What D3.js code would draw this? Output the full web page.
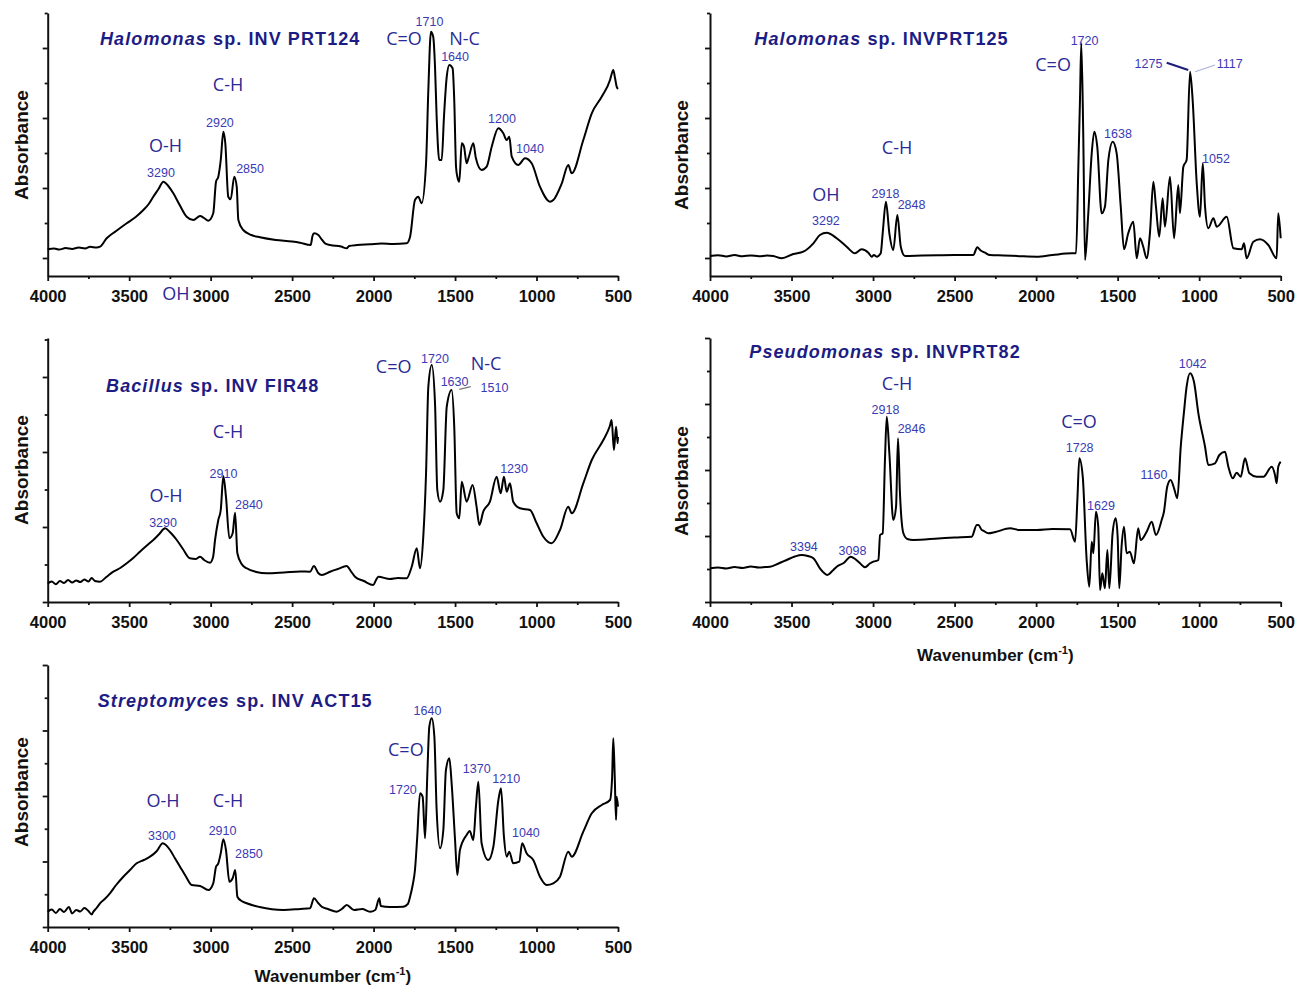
<!DOCTYPE html>
<html>
<head>
<meta charset="utf-8">
<script src="https://cdn.jsdelivr.net/npm/d3@7"></script>
<style>
  body { margin: 0; background: #fff; }
  svg text { font-family: "Liberation Sans", Arial, sans-serif; }
</style>
</head>
<body>
<div id="chart"></div>
<script>
// FTIR spectra, [wavenumber cm-1, absorbance (arb. units)]
const prt124 = [[4000,26.7],[3960,27.6],[3930,26.4],[3890,27.9],[3850,27.0],[3810,28.4],[3770,27.6],[3740,29.2],[3700,28.5],[3679,29.3],[3638,37.7],[3580,45],[3515,52.7],[3460,59],[3413,66],[3380,72],[3352,79.3],[3320,87],[3290,94.3],[3260,90],[3229,82.7],[3190,71],[3147,59.3],[3106,56],[3065,60],[3040,58],[3014,55.3],[2984,62.7],[2967,94.3],[2953,99.3],[2938,116],[2922,144.3],[2910,132.7],[2892,79.3],[2877,76.7],[2855,99.3],[2840,89.3],[2830,56],[2800,46],[2750,41],[2697,38.7],[2600,36],[2500,34.5],[2452,33.3],[2386,31],[2375,40],[2365,42.7],[2339,41],[2320,37],[2298,32.7],[2267,31],[2200,29.5],[2165,27.7],[2150,30],[2100,31],[2022,31.7],[1950,32.5],[1880,32],[1797,32.7],[1776,39.3],[1746,76],[1726,79.3],[1705,72.7],[1678,112.7],[1664,186],[1648,244.3],[1634,239.3],[1623,209.3],[1613,159.3],[1597,116],[1582,116],[1568,159.3],[1551,199.3],[1535,211],[1515,207.7],[1505,176],[1494,109.3],[1486,99.3],[1474,94.3],[1459,132.7],[1445,129.3],[1429,112.7],[1415,119.3],[1388,132.7],[1372,117.7],[1337,106],[1306,109.3],[1275,129.3],[1234,147.7],[1204,142.7],[1183,136],[1167,139.3],[1152,119.3],[1112,111],[1071,117.7],[1030,112.7],[979,89.3],[917,74.3],[897,76],[845,92.7],[805,111],[784,102.7],[713,136],[661,162.7],[600,179.3],[549,196],[535,204],[529,206],[518,197.7],[508,189.3],[500,187]];

const prt125 = [[4000,20],[3950,20.8],[3900,19.6],[3850,20.9],[3800,19.8],[3750,20.6],[3700,19.7],[3650,20.5],[3612,20],[3560,17.7],[3489,22],[3428,24.3],[3366,32.7],[3326,41],[3284,43.3],[3223,37.7],[3162,29.3],[3111,22.7],[3070,26.7],[3029,23.3],[3008,19.3],[2995,21],[2978,19.3],[2953,22.7],[2941,42.7],[2921,74.3],[2900,42.7],[2876,26],[2851,61],[2830,29.3],[2804,20],[2700,20.5],[2600,20.8],[2500,21],[2385,21],[2361,28.7],[2340,25.5],[2314,23.3],[2283,21],[2200,20.5],[2100,19.8],[1996,19.3],[1900,21],[1782,22.7],[1755,22.7],[1741,109.3],[1731,176],[1723,232.7],[1711,142.7],[1700,16],[1680,62.7],[1659,122.7],[1643,144.3],[1625,129.3],[1598,62.7],[1578,69.3],[1557,116],[1530,134.3],[1506,122.7],[1481,69.3],[1461,26.7],[1435,42.7],[1404,54.3],[1383,17.7],[1363,37.7],[1343,29.3],[1322,17.7],[1302,42.7],[1281,94.3],[1265,69.3],[1245,39.3],[1224,77.7],[1210,49.3],[1179,99.3],[1154,37.7],[1128,91],[1118,62.7],[1097,109.3],[1077,116],[1056,204.3],[1040,176],[1015,92.7],[995,59.3],[978,112.7],[964,69.3],[944,47.7],[913,57.7],[892,49.3],[831,59.3],[790,27.7],[739,26.7],[725,32.7],[709,17.7],[668,34.3],[627,36.7],[576,31],[525,17.7],[515,62.7],[500,37.7]];

const fir48 = [[4000,18.7],[3975,20.5],[3950,17.8],[3925,21],[3900,19],[3875,22],[3850,19.5],[3825,21.5],[3800,20],[3775,22.5],[3750,20.5],[3730,24],[3710,21],[3679,20.3],[3640,25],[3597,30.3],[3555,34],[3515,38.7],[3475,44],[3434,50.3],[3395,56],[3352,62],[3315,68],[3280,73.7],[3250,70],[3208,62],[3170,53],[3127,43.7],[3090,43],[3065,45.3],[3040,42],[3004,39.3],[2985,45],[2973,62],[2953,82],[2938,92],[2922,126],[2906,105.3],[2885,63.7],[2865,68.7],[2850,89.3],[2836,48.7],[2810,38],[2779,33.7],[2720,30],[2656,28.7],[2550,29.5],[2450,30.5],[2390,30.3],[2366,36],[2340,29],[2318,27],[2267,30.3],[2220,33],[2165,36],[2140,31],[2114,25.3],[2060,21],[2002,17],[1985,22],[1971,25.3],[1900,23],[1850,24],[1797,23.7],[1766,35.3],[1735,53.7],[1715,33.7],[1695,65.3],[1678,128.7],[1664,215.3],[1643,237],[1623,198.7],[1609,112],[1592,100.3],[1572,112],[1551,195.3],[1521,212],[1505,175.3],[1490,88.7],[1474,83.7],[1459,120.3],[1429,100.3],[1392,117],[1368,95.3],[1351,77],[1327,90.3],[1286,100.3],[1245,125.3],[1220,108.7],[1200,125.3],[1183,110.3],[1163,118.7],[1143,100.3],[1101,93.7],[1040,92],[999,78.7],[958,65.3],[907,58.7],[856,72],[805,95.3],[784,88.7],[713,118.7],[661,142],[590,162],[550,176],[539,182],[525,152],[512,175.3],[502,158.7],[500,165]];

const prt82 = [[4000,33.7],[3950,34.5],[3900,33.5],[3850,35],[3800,34],[3750,35.5],[3700,34.5],[3660,35],[3632,35.3],[3580,38.5],[3530,42],[3480,45.5],[3438,47],[3400,46],[3366,43.7],[3326,33.7],[3300,29],[3281,27],[3250,31],[3223,35.3],[3180,39],[3137,45.3],[3110,43],[3080,38.7],[3049,34.7],[3020,38.5],[2998,40.3],[2967,42],[2957,67],[2941,68.7],[2927,142],[2916,185.3],[2900,148.7],[2876,82],[2859,95.3],[2847,163.7],[2835,108.7],[2814,68.7],[2790,63],[2753,62],[2600,63.5],[2500,64.5],[2395,65.3],[2364,77],[2354,77],[2333,72],[2324,71.3],[2293,68.7],[2250,70],[2160,73.7],[2100,72],[1996,72],[1900,73],[1792,72.7],[1761,60.3],[1747,102],[1735,143.7],[1714,125.3],[1690,42],[1674,15.3],[1659,60.3],[1649,48.7],[1633,90.3],[1619,75.3],[1608,12],[1594,28.7],[1578,13.7],[1563,52],[1551,13.7],[1531,68.7],[1512,83.7],[1500,65.3],[1490,13.7],[1476,55.3],[1461,75.3],[1445,48.7],[1425,50.3],[1400,38.7],[1374,73.7],[1359,62],[1322,70.3],[1291,80.3],[1265,67],[1230,82],[1216,90.3],[1196,115.3],[1175,122],[1154,113.7],[1134,103.7],[1113,155.3],[1093,190.3],[1077,215.3],[1056,228.7],[1032,220.3],[1005,188.7],[964,155.3],[944,137],[903,138.7],[876,147],[842,150.3],[821,135.3],[794,123.7],[770,129.3],[745,125.3],[719,143.7],[692,128.7],[647,125.3],[606,125.3],[555,135.3],[535,127],[525,118.7],[515,135.3],[500,140.3]];

const act15 = [[4000,15.3],[3975,17.5],[3950,14],[3925,18],[3900,15],[3870,20],[3850,13.5],[3825,17],[3800,15.5],[3775,19],[3750,16],[3730,12.5],[3720,15.3],[3700,19],[3679,23.7],[3650,28],[3618,33.7],[3580,42],[3536,50.3],[3495,57],[3454,63.7],[3410,67],[3372,70.3],[3330,76],[3294,83.7],[3249,77],[3220,69],[3188,60.3],[3150,50],[3116,42],[3065,41],[3014,37],[2984,43.7],[2967,60.3],[2953,63.7],[2938,73.7],[2922,87.7],[2906,77],[2885,45.3],[2865,48.7],[2849,57],[2836,30.3],[2810,26],[2779,23.7],[2700,20],[2554,17],[2450,18],[2390,18.7],[2366,28.7],[2340,24],[2318,20.3],[2280,18],[2226,15.3],[2195,18],[2165,22],[2120,17],[2070,18],[2022,15.3],[1990,17],[1965,28.7],[1956,21],[1900,20],[1818,20.3],[1790,23],[1776,30.3],[1760,42],[1746,57],[1732,90.3],[1715,133.7],[1699,130.3],[1684,88.7],[1670,153.7],[1658,200.3],[1643,208.7],[1627,190.3],[1613,117],[1592,78.7],[1572,97],[1556,157],[1535,168.7],[1521,143.7],[1500,87],[1486,52],[1470,77],[1429,92],[1410,96],[1388,87],[1372,120.3],[1357,145.3],[1337,83.7],[1296,67],[1265,80.3],[1234,127],[1218,138.7],[1200,90.3],[1183,70.3],[1167,75.3],[1143,63.7],[1106,65.3],[1088,83.7],[1061,73.7],[1020,67],[979,50.3],[938,42],[897,43.7],[856,50.3],[805,75.3],[784,70.3],[713,95.3],[661,113.7],[600,122],[549,127],[536,150.3],[529,188.7],[520,150.3],[512,107],[508,130.3],[500,120.3]];

// Axis ticks
const xMajor = [4000, 3500, 3000, 2500, 2000, 1500, 1000, 500];
const xMinor = [3750, 3250, 2750, 2250, 1750, 1250, 750];

// Titles [italic genus, rest], anchored at [wavenumber, absorbance]
const titles = [
    ['Halomonas', ' sp. INV PRT124'],
    ['Halomonas', ' sp. INVPRT125'],
    ['Bacillus', ' sp. INV FIR48'],
    ['Pseudomonas', ' sp. INVPRT82'],
    ['Streptomyces', ' sp. INV ACT15']
];
const titleAt = [[3679, 231], [3728, 231], [3642, 210.3], [3759, 243.7], [3693, 220.3]];

// Peak annotations: [text, wavenumber, absorbance, kind]  (g = group label, n = peak number)
const notes124 = [['O-H',3277,124,'g'],['3290',3305,99.5,'n'],['C-H',2893,185,'g'],['2920',2943,149,'n'],['2850',2758,103,'n'],['OH',3213,-24,'g'],['C=O',1813,231,'g'],['1710',1657,250,'n'],['N-C',1442,231,'g'],['1640',1500,215,'n'],['1200',1212,153,'n'],['1040',1040,123,'n']];
const notes125 = [['OH',3289,75,'g'],['3292',3289,51,'n'],['C-H',2853,122,'g'],['2918',2924,78,'n'],['2848',2764,67,'n'],['C=O',1896,205,'g'],['1720',1703,231,'n'],['1275',1311,208.5,'n'],['1117',813,208,'n'],['1638',1498,138.5,'n'],['1052',897,113,'n']];
const notes48 = [['C-H',2893,163.7,'g'],['O-H',3274,100.3,'g'],['3290',3292,74.7,'n'],['2910',2921,123.7,'n'],['2840',2765,93,'n'],['C=O',1877,228.7,'g'],['1720',1623,239.3,'n'],['N-C',1310,232,'g'],['1630',1503,216.3,'n'],['1510',1258,210.3,'n'],['1230',1138,128.7,'n']];
const notes82 = [['C-H',2853,212,'g'],['2918',2924,188,'n'],['2846',2764,168.7,'n'],['3394',3424,51.3,'n'],['3098',3126,47,'n'],['C=O',1737,173.7,'g'],['1728',1733,150.3,'n'],['1629',1602,92,'n'],['1160',1277,122.7,'n'],['1042',1040,233.7,'n']];
const notes15 = [['O-H',3292,120.3,'g'],['C-H',2893,120.3,'g'],['3300',3299,87,'n'],['2910',2927,92,'n'],['2850',2765,68.7,'n'],['1640',1669,212,'n'],['C=O',1802,171,'g'],['1720',1820,132.7,'n'],['1370',1367,154.3,'n'],['1210',1186,143.7,'n'],['1040',1065,90.3,'n']];

// Leader lines [[wn1, a1], [wn2, a2], colour]
const leaders125 = [[[1199, 213.3], [1067, 206], '#1d1d7a'], [[1025, 204.3], [903, 211], '#aab0d8']];
const leaders48 = [[[1474, 212.7], [1404, 215.3], '#777']];

// Panel layout (pixels)
const panels = [
    { data: prt124, notes: notes124, leaders: [], box: [47.7, 618, 13, 276], yMax: 263,
      yMajor: [18, 88, 158, 228], yMinor: [53, 123, 193, 263], ylab: [21, 145], xlab: null },
    { data: prt125, notes: notes125, leaders: leaders125, box: [710, 1280.7, 13, 276], yMax: 263,
      yMajor: [18, 88, 158, 228], yMinor: [53, 123, 193, 263], ylab: [681, 155], xlab: null },
    { data: fir48, notes: notes48, leaders: leaders48, box: [47.7, 618, 338, 602], yMax: 264,
      yMajor: [0, 75, 150, 225], yMinor: [37.5, 112.5, 187.5, 262.5], ylab: [21, 470], xlab: null },
    { data: prt82, notes: notes82, leaders: [], box: [710, 1280.7, 338, 602], yMax: 264,
      yMajor: [0, 66, 132, 198, 264], yMinor: [33, 99, 165, 231], ylab: [681, 481], xlab: 59 },
    { data: act15, notes: notes15, leaders: [], box: [47.7, 618, 665, 927], yMax: 262,
      yMajor: [0, 65.5, 131, 196.5, 262], yMinor: [32.75, 98.25, 163.75, 229.25], ylab: [21, 792], xlab: 55 }
];

const W = 1295, H = 990;
const svg = d3.select('#chart').append('svg')
    .attr('width', W)
    .attr('height', H)
    .style('background', '#fff');

const titleColor = '#1c1c84';
const groupColor = '#2a2a96';
const numColor = '#3a3ab4';

panels.forEach((p, i) => {
    const [x0, x1, top, bottom] = p.box;
    const x = d3.scaleLinear().domain([4000, 500]).range([x0, x1]);
    const y = d3.scaleLinear().domain([0, p.yMax]).range([bottom, top]);
    const g = svg.append('g');

    // x axis: minor then major with labels
    const gxMinor = g.append('g')
        .attr('transform', `translate(0,${bottom})`)
        .call(d3.axisBottom(x).tickValues(xMinor).tickSize(3).tickSizeOuter(0).tickFormat(''));
    gxMinor.select('.domain').remove();
    const gx = g.append('g')
        .attr('transform', `translate(0,${bottom})`)
        .call(d3.axisBottom(x).tickValues(xMajor).tickSize(5).tickSizeOuter(0).tickPadding(9)
            .tickFormat(d3.format('d')));
    gx.selectAll('text')
        .attr('font-family', '"Liberation Sans", Arial, sans-serif')
        .attr('font-size', 16.5)
        .attr('font-weight', 'bold')
        .attr('fill', '#111');

    // y axis, no labels
    const gyMinor = g.append('g')
        .attr('transform', `translate(${x0},0)`)
        .call(d3.axisLeft(y).tickValues(p.yMinor).tickSize(3).tickSizeOuter(0).tickFormat(''));
    gyMinor.select('.domain').remove();
    g.append('g')
        .attr('transform', `translate(${x0},0)`)
        .call(d3.axisLeft(y).tickValues(p.yMajor).tickSize(5).tickSizeOuter(0).tickFormat(''));

    g.selectAll('.domain').attr('stroke', '#111').attr('stroke-width', 2);
    g.selectAll('.tick line').attr('stroke', '#111').attr('stroke-width', 1.8);

    // spectrum
    const line = d3.line()
        .x(d => x(d[0]))
        .y(d => y(d[1]))
        .curve(d3.curveMonotoneX);
    g.append('path')
        .datum(p.data)
        .attr('fill', 'none')
        .attr('stroke', '#000')
        .attr('stroke-width', 2)
        .attr('stroke-linejoin', 'round')
        .attr('d', line);

    // title
    const t = g.append('text')
        .attr('x', x(titleAt[i][0]))
        .attr('y', y(titleAt[i][1]))
        .attr('font-size', 18)
        .attr('font-weight', 'bold')
        .attr('letter-spacing', 1.1)
        .attr('fill', titleColor);
    t.append('tspan').attr('font-style', 'italic').text(titles[i][0]);
    t.append('tspan').text(titles[i][1]);

    // leader lines
    p.leaders.forEach(l => {
        g.append('line')
            .attr('x1', x(l[0][0])).attr('y1', y(l[0][1]))
            .attr('x2', x(l[1][0])).attr('y2', y(l[1][1]))
            .attr('stroke', l[2])
            .attr('stroke-width', l[2] === '#1d1d7a' ? 2 : 1.2);
    });

    // annotations
    g.selectAll('text.note')
        .data(p.notes)
        .join('text')
        .attr('class', 'note')
        .attr('x', d => x(d[1]))
        .attr('y', d => y(d[2]))
        .attr('text-anchor', 'middle')
        .style('font-family', d => d[3] === 'g' ? '"Open Sans", "Noto Sans", sans-serif' : '"Liberation Sans", Arial, sans-serif')
        .attr('font-size', d => d[3] === 'g' ? 18 : 12.5)
        .attr('fill', d => d[3] === 'g' ? groupColor : numColor)
        .text(d => d[0]);

    // y label
    g.append('text')
        .attr('transform', `translate(${p.ylab[0] + 7},${p.ylab[1]}) rotate(-90)`)
        .attr('text-anchor', 'middle')
        .attr('font-size', 19)
        .attr('font-weight', 'bold')
        .attr('fill', '#111')
        .text('Absorbance');

    // x label
    if (p.xlab) {
        const xl = g.append('text')
            .attr('x', (x0 + x1) / 2)
            .attr('y', bottom + p.xlab)
            .attr('text-anchor', 'middle')
            .attr('font-size', 17)
            .attr('font-weight', 'bold')
            .attr('fill', '#111');
        xl.append('tspan').text('Wavenumber (cm');
        xl.append('tspan').attr('font-size', 11).attr('dy', -7).text('-1');
        xl.append('tspan').attr('dy', 7).text(')');
    }
});
</script>
</body>
</html>
